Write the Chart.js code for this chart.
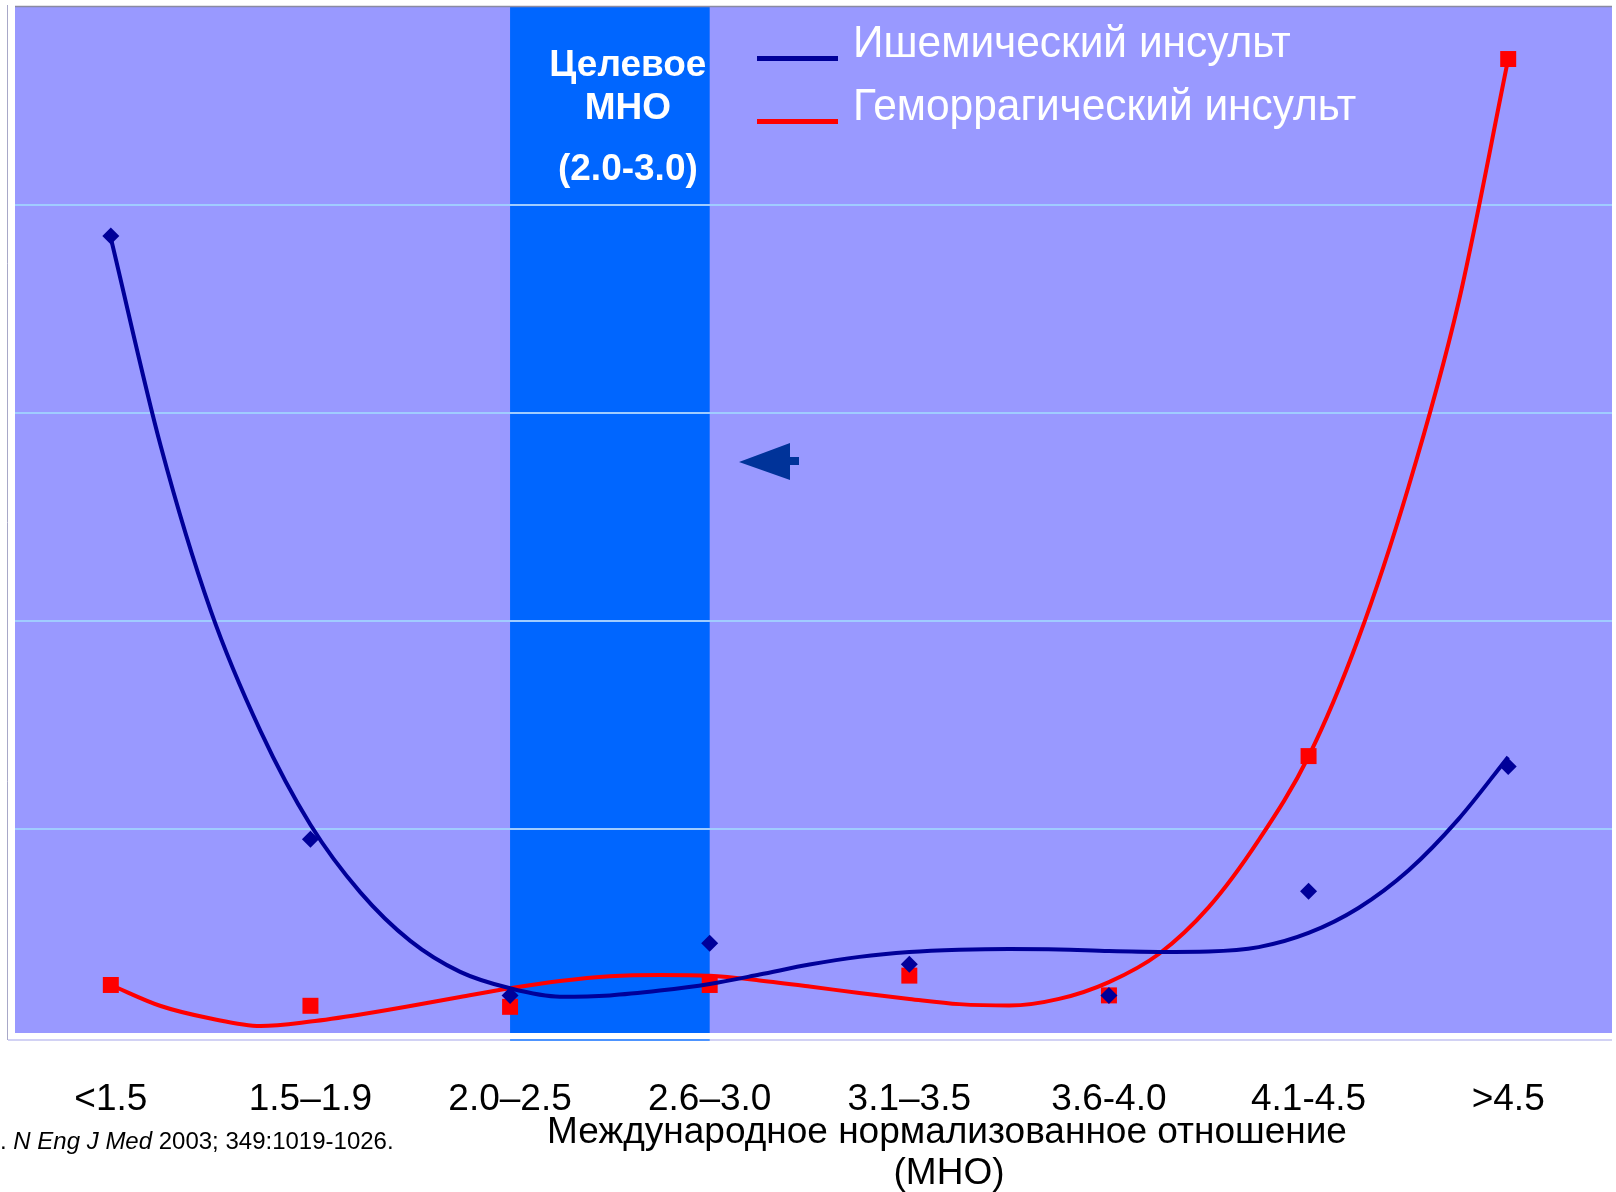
<!DOCTYPE html>
<html lang="ru">
<head>
<meta charset="utf-8">
<title>МНО и риск инсульта</title>
<script src="https://cdn.jsdelivr.net/npm/chart.js@4.4.1/dist/chart.umd.min.js"></script>
<style>
  html, body { margin: 0; padding: 0; background: #fff; overflow: hidden; }
  #wrap { position: relative; width: 1616px; height: 1192px; }
  #chart { display: block; }
</style>
</head>
<body>
<div id="wrap"><canvas id="chart"></canvas></div>
<script>
// INR groups on the x axis
const categories = ['<1.5', '1.5–1.9', '2.0–2.5', '2.6–3.0', '3.1–3.5', '3.6-4.0', '4.1-4.5', '>4.5']
// observed values per group
const ischemic = [3.85, 0.95, 0.20, 0.45, 0.35, 0.20, 0.70, 1.30]
const hemorrhagic = [0.25, 0.15, 0.145, 0.25, 0.295, 0.20, 1.35, 4.70]

// fitted trend curves, sampled every quarter group
const trendX = [0, 0.25, 0.5, 0.75, 1, 1.25, 1.5, 1.75, 2, 2.25, 2.5, 2.75, 3, 3.25, 3.5, 3.75, 4, 4.25, 4.5, 4.75, 5, 5.25, 5.5, 5.75, 6, 6.25, 6.5, 6.75, 7]
const ischemicTrend = [3.84, 2.84, 2.05, 1.47, 1.02, 0.695, 0.462, 0.313, 0.234, 0.194, 0.20, 0.223, 0.255, 0.30, 0.348, 0.385, 0.408, 0.419, 0.423, 0.421, 0.413, 0.409, 0.411, 0.432, 0.50, 0.62, 0.80, 1.046, 1.346]
const hemorrhagicTrend = [0.25, 0.149, 0.089, 0.053, 0.074, 0.108, 0.149, 0.192, 0.234, 0.269, 0.292, 0.298, 0.294, 0.272, 0.243, 0.211, 0.183, 0.158, 0.151, 0.183, 0.264, 0.399, 0.624, 0.946, 1.348, 1.916, 2.642, 3.525, 4.70]

// horizontal grid values
const gridValues = [1, 2, 3, 4]

// target INR band spans these two groups
const targetRange = [2, 3]
const targetLabel = ['Целевое', 'МНО', '(2.0-3.0)']
const axisTitle = ['Международное нормализованное отношение', '(МНО)']

const BLUE = '#000099'
const RED = '#FF0000'
const FONT = '"Liberation Sans", Arial, Helvetica, sans-serif'

const toPoints = (xs, ys) => xs.map((x, i) => ({ x, y: ys[i] }))

const backdrop = {
  id: 'backdrop',
  beforeDraw(chart) {
    const { ctx, chartArea: a, scales: { x } } = chart
    const floor = a.bottom - 4
    ctx.save()
    ctx.fillStyle = '#fff'
    ctx.fillRect(0, 0, chart.width, chart.height)

    ctx.fillStyle = '#9999FF'
    ctx.fillRect(a.left, a.top, a.right - a.left, floor - a.top)

    const b0 = x.getPixelForValue(targetRange[0])
    const b1 = x.getPixelForValue(targetRange[1])
    ctx.fillStyle = '#0066FF'
    ctx.fillRect(b0, a.top, b1 - b0, floor - a.top)

    // frame
    ctx.lineWidth = 1.5
    ctx.strokeStyle = '#8A8AA2'
    ctx.beginPath()
    ctx.moveTo(a.left, a.top - 0.5)
    ctx.lineTo(a.right, a.top - 0.5)
    ctx.stroke()
    ctx.lineWidth = 1
    ctx.strokeStyle = '#A8A8C8'
    ctx.beginPath()
    ctx.moveTo(7.5, a.top - 2)
    ctx.lineTo(7.5, a.bottom + 3)
    ctx.stroke()

    ctx.lineWidth = 2
    ctx.strokeStyle = '#D2D2F4'
    ctx.beginPath()
    ctx.moveTo(8, a.bottom + 3)
    ctx.lineTo(a.right, a.bottom + 3)
    ctx.stroke()
    ctx.strokeStyle = '#4D94FF'
    ctx.beginPath()
    ctx.moveTo(b0, a.bottom + 3)
    ctx.lineTo(b1, a.bottom + 3)
    ctx.stroke()
    ctx.restore()
  },
  beforeDatasetsDraw(chart) {
    const { ctx, chartArea: a, scales: { y } } = chart
    ctx.save()
    ctx.strokeStyle = '#A0CCFF'
    ctx.lineWidth = 2
    gridValues.forEach(v => {
      const py = Math.round(y.getPixelForValue(v))
      ctx.beginPath()
      ctx.moveTo(a.left, py)
      ctx.lineTo(a.right, py)
      ctx.stroke()
    })
    ctx.restore()
  }
}

const annotations = {
  id: 'annotations',
  afterDraw(chart) {
    const { ctx, scales: { x } } = chart
    ctx.save()

    // band caption
    const mid = (x.getPixelForValue(targetRange[0]) + x.getPixelForValue(targetRange[1])) / 2 + 18
    ctx.fillStyle = '#fff'
    ctx.textAlign = 'center'
    ctx.textBaseline = 'alphabetic'
    ctx.font = 'bold 37px ' + FONT
    ctx.fillText(targetLabel[0], mid, 76)
    ctx.fillText(targetLabel[1], mid, 119)
    ctx.fillText(targetLabel[2], mid, 180)

    // arrow
    ctx.fillStyle = '#003399'
    ctx.beginPath()
    ctx.moveTo(739, 462)
    ctx.lineTo(790, 443)
    ctx.lineTo(790, 457)
    ctx.lineTo(799, 457)
    ctx.lineTo(799, 465)
    ctx.lineTo(790, 465)
    ctx.lineTo(790, 480)
    ctx.closePath()
    ctx.fill()

    // legend
    const trends = chart.data.datasets.filter(d => d.showLine)
    const rows = [58.5, 121.5]
    ctx.textAlign = 'left'
    ctx.font = '44px ' + FONT
    trends.forEach((d, i) => {
      ctx.strokeStyle = d.borderColor
      ctx.lineWidth = 5
      ctx.beginPath()
      ctx.moveTo(757, rows[i])
      ctx.lineTo(838, rows[i])
      ctx.stroke()
      ctx.fillStyle = '#fff'
      const w = ctx.measureText(d.label).width
      ctx.fillText(d.label, 853, rows[i] - 2, w * 0.965)
    })

    // category labels
    ctx.fillStyle = '#000'
    ctx.textAlign = 'center'
    ctx.font = '37px ' + FONT
    categories.forEach((c, i) => {
      ctx.fillText(c, x.getPixelForValue(i), 1110)
    })

    // axis title
    ctx.font = '37px ' + FONT
    ctx.fillText(axisTitle[0], 947, 1143)
    ctx.fillText(axisTitle[1], 949, 1184)

    // source
    ctx.textAlign = 'left'
    let cx = 0
    const parts = [['.', false], [' N Eng J Med', true], [' 2003; 349:1019-1026.', false]]
    parts.forEach(([t, italic]) => {
      ctx.font = (italic ? 'italic ' : '') + '24px ' + FONT
      ctx.fillText(t, cx, 1149)
      cx += ctx.measureText(t).width
    })
    ctx.restore()
  }
}

new Chart(document.getElementById('chart'), {
  type: 'scatter',
  data: {
    datasets: [
      {
        label: 'Ишемический инсульт',
        data: toPoints(trendX, ischemicTrend),
        showLine: true,
        borderColor: BLUE,
        borderWidth: 4,
        pointRadius: 0,
        cubicInterpolationMode: 'monotone',
        order: 2
      },
      {
        label: 'Геморрагический инсульт',
        data: toPoints(trendX, hemorrhagicTrend),
        showLine: true,
        borderColor: RED,
        borderWidth: 4,
        pointRadius: 0,
        cubicInterpolationMode: 'monotone',
        order: 3
      },
      {
        label: 'ischemic points',
        data: ischemic.map((y, i) => ({ x: i, y })),
        pointStyle: 'rectRot',
        pointRadius: 8.5,
        backgroundColor: BLUE,
        borderColor: BLUE,
        borderWidth: 0,
        order: 1
      },
      {
        label: 'hemorrhagic points',
        data: hemorrhagic.map((y, i) => ({ x: i, y })),
        pointStyle: 'rect',
        pointRadius: 11.3,
        backgroundColor: RED,
        borderColor: RED,
        borderWidth: 0,
        order: 4
      }
    ]
  },
  options: {
    responsive: true,
    maintainAspectRatio: false,
    animation: false,
    events: [],
    layout: { autoPadding: false, padding: { left: 15, top: 7, right: 4, bottom: 155 } },
    plugins: { legend: { display: false }, tooltip: { enabled: false } },
    scales: {
      x: { type: 'linear', min: -0.48, max: 7.52, display: false },
      y: { min: 0, max: 4.95, display: false }
    }
  },
  plugins: [backdrop, annotations]
})
</script>
</body>
</html>
